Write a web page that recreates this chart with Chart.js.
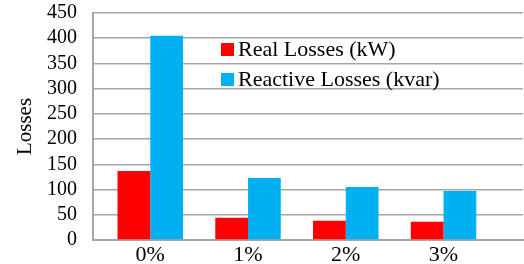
<!DOCTYPE html>
<html>
<head>
<meta charset="utf-8">
<script src="https://cdn.jsdelivr.net/npm/chart.js@4.4.0/dist/chart.umd.min.js"></script>
<style>
html, body { margin: 0; padding: 0; background: #fff; }
#wrap { width: 524px; height: 264px; }
</style>
</head>
<body>
<div id="wrap"><canvas id="chartLosses"></canvas></div>
<script>
// Data losses per kategori
const categories = ['0%', '1%', '2%', '3%'];
const realLosses = [137, 44, 38, 36];
const reactiveLosses = [405, 123, 105, 97];
const seriesLabels = ['Real Losses (kW)', 'Reactive Losses (kvar)'];
const yMin = 0, yMax = 450, yStep = 50;

const serif = 'Liberation Serif, Times New Roman, serif';
const gridColor = '#a6a6a6';

// Legend di dalam area chart (seperti Excel)
const insideLegend = {
  id: 'insideLegend',
  afterDraw(chart) {
    const { ctx } = chart;
    ctx.save();
    ctx.font = '22px ' + serif;
    ctx.textBaseline = 'alphabetic';
    ctx.textAlign = 'left';
    chart.data.datasets.forEach((ds, i) => {
      ctx.fillStyle = ds.backgroundColor;
      ctx.fillRect(221, 43 + i * 30, 13, 13);
      ctx.fillStyle = '#000';
      ctx.fillText(ds.label, 238, 56 + i * 30);
    });
    ctx.restore();
  }
};

const ctx = document.getElementById('chartLosses').getContext('2d');
const lossesChart = new Chart(ctx, {
  type: 'bar',
  data: {
    datasets: [
      {
        label: seriesLabels[0],
        data: realLosses.map((v, i) => ({ x: i, y: v })),
        backgroundColor: '#ff0000'
      },
      {
        label: seriesLabels[1],
        data: reactiveLosses.map((v, i) => ({ x: i, y: v })),
        backgroundColor: '#00b0f0'
      }
    ]
  },
  options: {
    responsive: true,
    maintainAspectRatio: false,
    devicePixelRatio: 1,
    animation: false,
    categoryPercentage: 0.67,
    barPercentage: 1.0,
    layout: { padding: { top: 13, right: 1, left: 0, bottom: 0 } },
    plugins: {
      legend: { display: false },
      tooltip: { enabled: false }
    },
    scales: {
      x: {
        type: 'linear',
        offset: false,
        min: -0.586,
        max: 3.813,
        afterBuildTicks(scale) {
          scale.ticks = categories.map((c, i) => ({ value: i }));
        },
        afterFit(scale) { scale.height = 24; },
        grid: { display: false, drawTicks: false, offset: false },
        border: { display: true, color: gridColor, width: 2 },
        ticks: {
          padding: 2,
          autoSkip: false,
          color: '#000',
          font: { family: serif, size: 22 },
          callback: (v) => categories[v] ?? ''
        }
      },
      y: {
        min: yMin,
        max: yMax,
        afterFit(scale) { scale.width = 93; },
        grid: { color: gridColor, lineWidth: 1.5, drawTicks: true, tickLength: 16, tickColor: 'rgba(0,0,0,0)' },
        border: { display: true, color: gridColor, width: 2 },
        ticks: {
          stepSize: yStep,
          autoSkip: false,
          padding: 0,
          color: '#000',
          font: { family: serif, size: 20 }
        },
        title: {
          display: true,
          text: 'Losses',
          color: '#000',
          font: { family: serif, size: 21 },
          padding: { top: 13, bottom: 0 }
        }
      }
    }
  },
  plugins: [insideLegend]
});
</script>
</body>
</html>
